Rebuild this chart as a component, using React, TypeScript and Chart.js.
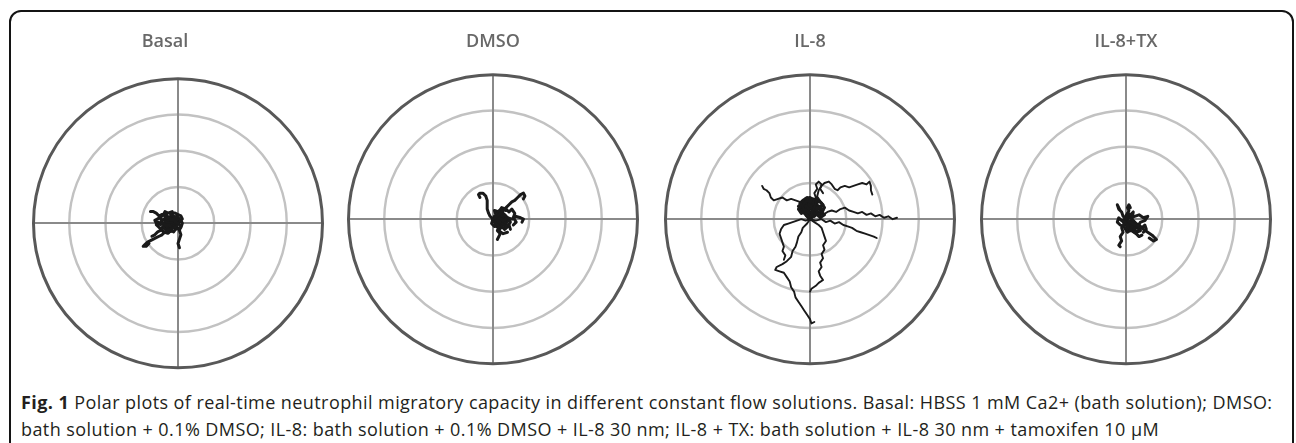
import React, { useEffect, useRef } from "react";
import { Chart, registerables } from "chart.js";

Chart.register(...registerables);

// ---------- data ----------
const TITLES = ["Basal", "DMSO", "IL-8", "IL-8+TX"];
const RING_VALUES = [25, 50, 75, 100];
const AXIS_MIN = -100;
const AXIS_MAX = 100;

type Pt = [number, number];

const BASAL_TRACKS: Pt[][] = [
  [[0,0],[-2,1],[-3,3],[-5,2],[-6,4],[-8,3],[-9,5],[-11,6],[-13,5],[-15,7],[-17,8],[-19,8]],
  [[0,0],[-1,-2],[-3,-3],[-5,-4],[-7,-5],[-9,-6],[-11,-8],[-13,-9],[-15,-10],[-17,-11],[-19,-12],[-21,-13],[-23,-15],[-24,-16],[-22,-16],[-20,-14]],
  [[0,0],[2,-2],[1,-5],[2,-8],[1,-11],[0,-14],[1,-17]],
  [[0,0],[2,2],[3,0],[2,-3],[-1,-4],[-3,-2],[-5,-3],[-6,-1],[-8,-2],[-10,0],[-12,-1],[-14,1],[-15,-1],[-13,-3],[-11,-4]],
  [[0,0],[-1,3],[-3,5],[-5,6],[-4,8],[-7,7],[-9,8],[-10,6],[-12,4],[-14,3],[-16,2],[-15,0]],
  [[0,0],[3,3],[2,5],[0,6],[-2,7],[-5,7],[-3,4],[-1,2],[-4,1],[-7,0],[-9,1],[-10,-3],[-8,-5],[-6,-6],[-4,-5]],
  [[0,0],[-2,-1],[-4,0],[-6,-2],[-8,-1],[-10,-3],[-12,-5],[-14,-6],[-16,-8],[-18,-9]],
  [[0,0],[-3,2],[-6,1],[-8,4],[-11,2],[-13,4],[-11,6],[-8,6],[-6,3],[-4,4],[-2,2]],
  [[0,0],[-2,-3],[-5,-1],[-7,-4],[-10,-2],[-12,-4],[-10,-6],[-7,-7],[-5,-5],[-3,-6],[-1,-3]],
  [[0,0],[-4,-2],[-6,2],[-9,-1],[-12,1],[-9,3],[-6,-1],[-3,1]],
  [[0,0],[1,3],[-1,5],[-3,3],[-5,5],[-7,3],[-9,2],[-7,-2],[-4,-3],[-2,-1]],
];

const DMSO_TRACKS: Pt[][] = [
  [[0,0],[-2,2],[-3,4],[-4,7],[-4,10],[-4,13],[-5,16],[-7,18],[-9,18],[-10,17],[-9,15]],
  [[0,0],[3,2],[5,4],[7,6],[9,8],[11,10],[13,12],[15,13],[17,15],[19,17],[21,18],[22,16],[21,14]],
  [[0,0],[2,-3],[4,-5],[3,-8],[5,-10],[4,-12],[3,-14]],
  [[0,0],[4,1],[7,-1],[10,1],[13,0],[16,2],[19,1],[21,0],[20,-2]],
  [[0,0],[3,-1],[5,2],[8,3],[10,1],[12,-2],[10,-5],[8,-7],[6,-5],[4,-8],[7,-10],[10,-9]],
  [[0,0],[-1,-3],[1,-5],[2,-2],[4,-3],[6,0],[8,-2],[9,2],[7,4],[5,2],[3,5],[6,7],[9,6]],
  [[0,0],[2,3],[1,6],[4,5],[6,8],[9,7],[11,5],[13,7],[15,4],[14,1],[16,-2],[14,-4]],
  [[0,0],[3,3],[6,1],[8,-3],[5,-4],[3,-1],[6,3],[9,0],[7,-4],[4,-6],[2,-3]],
  [[0,0],[2,-1],[4,2],[7,1],[6,-2],[9,-3],[11,0],[8,2],[5,-1],[3,1]],
  [[0,0],[1,2],[3,0],[1,-2],[4,-3],[2,-5],[5,-6],[7,-3],[9,-6],[11,-4],[12,-7]],
];

const IL8_TRACKS: Pt[][] = [
  [[0,0],[-2,-3],[-5,-6],[-6,-9],[-8,-12],[-9,-16],[-10,-19],[-12,-22],[-13,-26],[-16,-29],[-19,-31],[-23,-33],[-24,-35],[-21,-36],[-18,-37],[-16,-40],[-14,-43],[-13,-47],[-11,-50],[-10,-54],[-8,-57],[-6,-60],[-4,-63],[-2,-66],[0,-69],[1,-72],[3,-71]],
  [[0,0],[3,-2],[6,-4],[8,-6],[9,-9],[10,-12],[11,-15],[9,-18],[10,-21],[8,-24],[9,-27],[7,-30],[8,-33],[6,-36],[7,-39],[9,-42],[6,-44],[4,-46],[1,-48],[0,-50]],
  [[0,0],[-3,-1],[-6,0],[-9,-1],[-12,-2],[-15,-3],[-18,-4],[-20,-7],[-21,-10],[-20,-13],[-19,-16],[-18,-19],[-19,-22],[-17,-25],[-18,-28]],
  [[0,0],[-2,3],[-4,6],[-5,9],[-7,12],[-10,13],[-13,14],[-16,13],[-19,15],[-22,14],[-25,13],[-27,15],[-28,18],[-30,20],[-32,21],[-33,23]],
  [[0,0],[1,4],[3,8],[4,12],[5,16],[6,20],[8,23],[10,25],[13,26],[15,24],[17,21],[19,20],[21,22],[24,23],[27,22],[30,23],[33,24],[36,25],[39,24],[41,26],[42,23],[42,20],[43,17]],
  [[0,0],[3,2],[6,4],[9,3],[12,5],[15,6],[18,5],[21,7],[24,8],[27,6],[30,5],[33,4],[36,5],[39,3],[42,4],[45,2],[48,3],[51,1],[54,2],[57,0],[60,1]],
  [[0,0],[4,-1],[8,0],[11,-2],[14,-1],[17,-3],[20,-2],[23,-4],[26,-5],[29,-6],[32,-8],[35,-9],[38,-10],[41,-11],[44,-12],[46,-13]],
  [[0,0],[2,3],[1,6],[3,9],[2,12],[4,15],[3,18],[5,21],[4,24],[6,26],[8,24],[7,21],[9,18]],
];

const IL8_CORE_TRACKS: Pt[][] = [
  [[0,0],[-2,2],[-4,5],[-6,4],[-8,7],[-6,9],[-4,11],[-2,13],[0,12],[2,14],[4,12],[3,9],[5,7],[7,9],[9,6],[7,3],[5,5],[3,2]],
  [[0,0],[-3,3],[-1,5],[-4,7],[-7,10],[-5,13],[-2,15],[1,13],[-1,10],[2,8],[4,10],[6,13],[8,11],[10,8],[8,5],[6,2],[4,4],[1,3]],
  [[0,0],[2,2],[0,4],[-2,6],[0,8],[-3,9],[-5,11],[-3,14],[0,15],[3,13],[5,15],[7,12],[9,10],[6,8],[8,5],[10,3],[7,1]],
  [[0,0],[-3,4],[-6,6],[-8,9],[-5,10],[-3,7],[-1,9],[-4,12],[-1,14],[2,11],[0,8],[3,6],[5,9],[2,10]],
  [[0,0],[-2,5],[-5,8],[-3,10],[-6,12],[-3,13],[0,11],[2,9],[4,11],[6,8],[3,5],[1,7],[-2,9]],
  [[0,0],[1,4],[-2,7],[-4,9],[-2,11],[1,10],[3,12],[5,10],[3,7],[6,5],[4,3],[1,5]],
  [[0,0],[-1,3],[-4,4],[-6,7],[-4,8],[-7,11],[-4,12],[-2,10],[0,13],[2,12],[1,9],[4,8],[2,6],[4,4]],
];

const IL8TX_TRACKS: Pt[][] = [
  [[0,0],[-2,2],[-3,5],[-5,7],[-6,10],[-5,8],[-4,6]],
  [[0,0],[1,3],[2,6],[1,8],[2,10],[3,8]],
  [[0,0],[3,-2],[6,-4],[9,-5],[12,-7],[15,-9],[18,-11],[21,-14],[19,-15],[16,-13]],
  [[0,0],[-1,-3],[-3,-6],[-2,-9],[-4,-12],[-3,-15],[-5,-18],[-4,-19]],
  [[0,0],[3,1],[6,2],[9,3],[12,1],[15,2],[13,-1],[10,-2],[8,-5],[5,-4],[3,-7],[6,-9],[8,-8]],
  [[0,0],[-3,-1],[-5,1],[-6,-2],[-4,-4],[-2,-5],[0,-3],[2,-6],[4,-8],[7,-10],[9,-12],[11,-11]],
  [[0,0],[2,2],[4,0],[5,-2],[3,-3],[1,-1],[-1,1],[1,4],[3,3],[5,5],[4,-1]],
  [[0,0],[1,-2],[4,-1],[6,-3],[9,-4],[11,-6],[13,-4],[14,-7],[12,-9]],
  [[0,0],[2,-3],[5,-2],[7,-5],[4,-6],[2,-4],[0,-6],[3,-8],[6,-7],[8,-4],[5,-1]],
  [[0,0],[-2,-2],[0,-4],[3,-3],[5,-6],[8,-6],[10,-8],[7,-9],[4,-7],[1,-9],[-1,-6]],
];

const PANEL_TRACKS = [BASAL_TRACKS, DMSO_TRACKS, IL8_TRACKS, IL8TX_TRACKS];
const PANEL_CORE_TRACKS: Pt[][][] = [[], [], IL8_CORE_TRACKS, []];
const TRACK_WIDTHS = [3, 3, 1.9, 3];
const CORE_WIDTH = 3;

// ---------- layout ----------
const R = 145;
const PAD = 4;
const CANVAS_TOP = 26.6;
const TITLE_SIZE = 18;
const CENTERS: Pt[] = [[178, 223], [493, 219], [810, 219], [1126, 219]];
const TITLE_SHIFT = [-13, 0, 0, 0];

const RING_COLOR = "#c2c2c2";
const OUTER_COLOR = "#585858";
const CROSS_COLOR = "#8a8a8a";
const TRACK_COLOR = "#1a1a1a";

const ringsPlugin = {
  id: "rings",
  beforeDraw(chart: any) {
    const { ctx, scales } = chart;
    const x = scales.x, y = scales.y;
    const cx = x.getPixelForValue(0);
    const cy = y.getPixelForValue(0);
    ctx.save();
    RING_VALUES.forEach((v) => {
      if (v === AXIS_MAX) return;
      const r = x.getPixelForValue(v) - cx;
      ctx.beginPath();
      ctx.arc(cx, cy, r, 0, Math.PI * 2);
      ctx.strokeStyle = RING_COLOR;
      ctx.lineWidth = 2.4;
      ctx.stroke();
    });
    ctx.restore();
  },
  beforeDatasetsDraw(chart: any) {
    const { ctx, scales } = chart;
    const x = scales.x, y = scales.y;
    const cx = x.getPixelForValue(0);
    const cy = y.getPixelForValue(0);
    const r = x.getPixelForValue(AXIS_MAX) - cx;
    ctx.save();
    ctx.beginPath();
    ctx.arc(cx, cy, r - 0.5, 0, Math.PI * 2);
    ctx.strokeStyle = OUTER_COLOR;
    ctx.lineWidth = 3;
    ctx.stroke();
    ctx.restore();
  },
};

function Panel({ index }: { index: number }) {
  const ref = useRef<HTMLCanvasElement | null>(null);
  const [cx, cy] = CENTERS[index];
  const extra = -2 * TITLE_SHIFT[index];
  const width = 2 * R + 2 * PAD + extra;
  const height = cy + R + PAD - CANVAS_TOP;
  const titleLine = TITLE_SIZE * 1.2;
  const titleBottom = cy - R - (CANVAS_TOP + PAD + titleLine);

  useEffect(() => {
    if (!ref.current) return;
    const axis = (id: string) => ({
      type: "linear",
      min: AXIS_MIN,
      max: AXIS_MAX,
      ticks: { display: false, stepSize: 100 },
      grid: {
        drawTicks: false,
        lineWidth: 2,
        color: (c: any) => (c.tick && c.tick.value === 0 ? CROSS_COLOR : "rgba(0,0,0,0)"),
      },
      border: { display: false },
      afterFit: (scale: any) => {
        if (id === "y") scale.width = extra;
        else scale.height = 0;
      },
    });
    const mk = (track: Pt[], i: number, w: number, tag: string) => ({
      label: `${TITLES[index]} ${tag} ${i + 1}`,
      data: track.map(([x, y]) => ({ x, y })),
      showLine: true,
      pointRadius: 0,
      borderColor: TRACK_COLOR,
      borderWidth: w,
      borderJoinStyle: "round",
      borderCapStyle: "round",
      tension: 0,
    });
    const chart = new Chart(ref.current, {
      type: "scatter",
      data: {
        datasets: [
          ...PANEL_TRACKS[index].map((t, i) => mk(t, i, TRACK_WIDTHS[index], "cell")),
          ...PANEL_CORE_TRACKS[index].map((t, i) => mk(t, i, CORE_WIDTH, "core")),
        ],
      },
      options: {
        responsive: false,
        animation: false,
        layout: { padding: PAD },
        scales: { x: axis("x") as any, y: axis("y") as any },
        plugins: {
          legend: { display: false },
          tooltip: { enabled: false },
          title: {
            display: true,
            text: TITLES[index],
            color: "#686868",
            font: { family: "'Open Sans', sans-serif", size: TITLE_SIZE, weight: "600", lineHeight: 1.2 },
            padding: { top: 0, bottom: titleBottom },
          },
        },
      } as any,
      plugins: [ringsPlugin],
    });
    return () => chart.destroy();
  }, [index]);

  return (
    <canvas
      ref={ref}
      width={width}
      height={height}
      style={{ position: "absolute", left: cx - R - PAD - extra, top: CANVAS_TOP, width, height }}
    />
  );
}

export default function App() {
  return (
    <div
      style={{
        position: "absolute",
        left: 0,
        top: 0,
        width: 1296,
        height: 443,
        overflow: "hidden",
        background: "#ffffff",
      }}
    >
      <div
        style={{
          position: "absolute",
          left: 9,
          top: 10,
          width: 1281,
          height: 520,
          border: "2px solid #141414",
          borderRadius: 12,
        }}
      />
      {TITLES.map((_, i) => (
        <Panel key={i} index={i} />
      ))}
      <div
        style={{
          position: "absolute",
          left: 21,
          top: 389,
          fontFamily: "'Open Sans', sans-serif",
          fontSize: 18,
          letterSpacing: "0.42px",
          lineHeight: "27px",
          color: "#231f20",
          whiteSpace: "nowrap",
        }}
      >
        <b>Fig. 1</b> Polar plots of real-time neutrophil migratory capacity in different constant flow solutions. Basal: HBSS 1 mM Ca2+ (bath solution); DMSO:
        <br />
        bath solution + 0.1% DMSO; IL-8: bath solution + 0.1% DMSO + IL-8 30 nm; IL-8 + TX: bath solution + IL-8 30 nm + tamoxifen 10 μM
      </div>
    </div>
  );
}
